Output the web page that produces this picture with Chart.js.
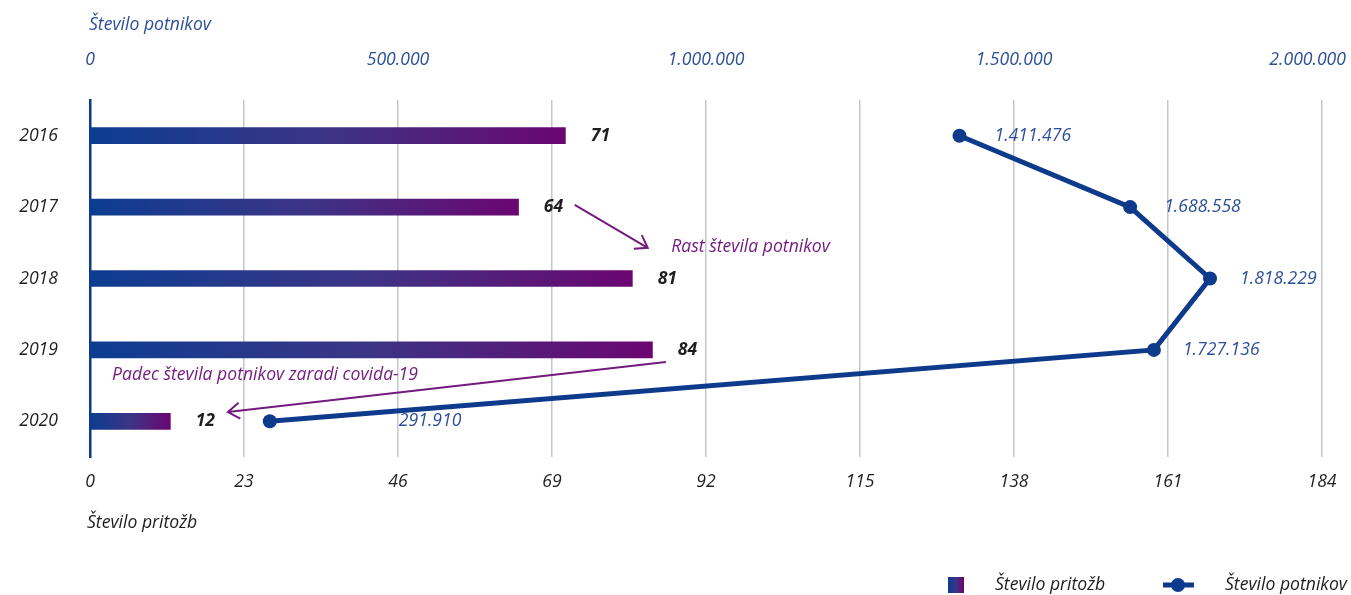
<!DOCTYPE html>
<html>
<head>
<meta charset="utf-8">
<script src="https://cdn.jsdelivr.net/npm/chart.js@4"></script>
<style>
  html, body { margin: 0; padding: 0; background: #fff; }
  #wrap { width: 1351px; height: 595px; position: relative; }
</style>
</head>
<body>
<div id="wrap"><canvas id="myChart"></canvas></div>
<script>
const years = ['2016', '2017', '2018', '2019', '2020'];
const complaints = [71, 64, 81, 84, 12];
const passengers = [1411476, 1688558, 1818229, 1727136, 291910];
const complaintTicks = [0, 23, 46, 69, 92, 115, 138, 161, 184];
const passengerTicks = [0, 500000, 1000000, 1500000, 2000000];

const BLUE = '#0e3a8c';
const PURPLE = '#6b0671';
const LABEL_BLUE = '#2c4f98';
const NOTE = '#731a7f';
const FONT = '"Open Sans", Lato, sans-serif';
const SIZE = 17.6;

function dots(n) {
  return String(n).replace(/\B(?=(\d{3})+(?!\d))/g, '.');
}

function barGradient(ctx, x0, x1) {
  const g = ctx.createLinearGradient(x0, 0, x1, 0);
  g.addColorStop(0, '#0c3d91');
  g.addColorStop(0.5, '#3c3486');
  g.addColorStop(1, PURPLE);
  return g;
}

function arrow(ctx, x0, y0, x1, y1) {
  const a = Math.atan2(y1 - y0, x1 - x0);
  const h = 14;
  ctx.beginPath();
  ctx.moveTo(x0, y0);
  ctx.lineTo(x1, y1);
  ctx.moveTo(x1 - h * Math.cos(a - 0.6), y1 - h * Math.sin(a - 0.6));
  ctx.lineTo(x1, y1);
  ctx.lineTo(x1 - h * Math.cos(a + 0.6), y1 - h * Math.sin(a + 0.6));
  ctx.stroke();
}

// labels, arrows, titles and legend
const extras = {
  id: 'extras',
  afterDatasetsDraw(chart) {
    const ctx = chart.ctx;
    const x = chart.scales.x, x2 = chart.scales.x2, y = chart.scales.y;
    ctx.save();
    ctx.textBaseline = 'middle';

    // complaint values after each bar
    ctx.font = 'italic bold ' + SIZE + 'px ' + FONT;
    ctx.fillStyle = '#1e1e1e';
    ctx.textAlign = 'center';
    complaints.forEach((v, i) => {
      ctx.fillText(v, x.getPixelForValue(v) + 35, y.getPixelForValue(i));
    });

    // passenger values next to points
    const dx = [35, 34, 30, 29, 129];
    ctx.font = 'italic ' + SIZE + 'px ' + FONT;
    ctx.fillStyle = LABEL_BLUE;
    ctx.textAlign = 'left';
    passengers.forEach((v, i) => {
      ctx.fillText(dots(v), x2.getPixelForValue(v) + dx[i], y.getPixelForValue(i));
    });

    // notes
    ctx.strokeStyle = NOTE;
    ctx.lineWidth = 2;
    arrow(ctx, x.getPixelForValue(72.4), y.getPixelForValue(0.97),
               x.getPixelForValue(83.3), y.getPixelForValue(1.57));
    arrow(ctx, x.getPixelForValue(86), y.getPixelForValue(3.17),
               x.getPixelForValue(20.6), y.getPixelForValue(3.87));
    ctx.fillStyle = NOTE;
    ctx.font = 'italic ' + SIZE + 'px ' + FONT;
    ctx.fillText('Rast števila potnikov', x.getPixelForValue(86.8), y.getPixelForValue(1.56));
    ctx.fillText('Padec števila potnikov zaradi covida-19', x.getPixelForValue(3.3), y.getPixelForValue(3.35));
    ctx.restore();
  },
  afterDraw(chart) {
    const ctx = chart.ctx;
    const x2 = chart.scales.x2;
    const W = chart.width;
    ctx.save();
    ctx.textBaseline = 'middle';

    // top axis labels
    ctx.font = 'italic ' + SIZE + 'px ' + FONT;
    ctx.fillStyle = LABEL_BLUE;
    ctx.textAlign = 'center';
    passengerTicks.forEach(v => {
      const t = dots(v);
      const w = ctx.measureText(t).width;
      const px = Math.min(x2.getPixelForValue(v), W - 5 - w / 2);
      ctx.fillText(t, px, 60);
    });

    // axis titles
    ctx.textAlign = 'left';
    ctx.fillText('Število potnikov', 89, 25);
    ctx.fillStyle = '#1e1e1e';
    ctx.fillText('Število pritožb', 87, 523);

    // legend
    ctx.fillStyle = barGradient(ctx, 948, 964);
    ctx.fillRect(948, 577, 16, 16);
    ctx.fillStyle = '#1e1e1e';
    ctx.fillText('Število pritožb', 995, 585);
    ctx.strokeStyle = BLUE;
    ctx.lineWidth = 5;
    ctx.beginPath();
    ctx.moveTo(1163, 585);
    ctx.lineTo(1194, 585);
    ctx.stroke();
    ctx.fillStyle = BLUE;
    ctx.beginPath();
    ctx.arc(1178, 585, 7, 0, Math.PI * 2);
    ctx.fill();
    ctx.fillStyle = '#1e1e1e';
    ctx.fillText('Število potnikov', 1225, 585);
    ctx.restore();
  }
};

const data = {
  labels: years,
  datasets: [{
    type: 'line',
    label: 'Število potnikov',
    data: passengers,
    xAxisID: 'x2',
    yAxisID: 'y',
    borderColor: BLUE,
    backgroundColor: BLUE,
    borderWidth: 5,
    pointRadius: 7,
    pointBorderWidth: 0,
    pointBackgroundColor: BLUE,
    tension: 0,
    order: 0
  }, {
    type: 'bar',
    label: 'Število pritožb',
    data: complaints,
    xAxisID: 'x',
    yAxisID: 'y',
    barThickness: 16,
    backgroundColor(c) {
      const chart = c.chart;
      if (!chart.chartArea) return PURPLE;
      const xs = chart.scales.x;
      return barGradient(chart.ctx, xs.getPixelForValue(0), xs.getPixelForValue(c.raw));
    },
    order: 1
  }]
};

const config = {
  type: 'bar',
  data: data,
  plugins: [extras],
  options: {
    indexAxis: 'y',
    responsive: false,
    animation: false,
    layout: { padding: { top: 100, right: 29, left: 0, bottom: 0 } },
    plugins: {
      legend: { display: false },
      tooltip: { enabled: false }
    },
    scales: {
      y: {
        type: 'category',
        offset: true,
        grid: { display: false },
        border: { display: true, color: BLUE, width: 2.5 },
        ticks: {
          color: '#1e1e1e',
          padding: 24,
          font: { family: FONT, style: 'italic', size: SIZE }
        },
        afterFit(s) { s.width = 90; }
      },
      x: {
        position: 'bottom',
        min: 0,
        max: 184,
        afterBuildTicks(s) { s.ticks = complaintTicks.map(v => ({ value: v })); },
        grid: { color: '#c3c6cb', lineWidth: 1.5, drawTicks: false },
        border: { display: false },
        ticks: {
          color: '#1e1e1e',
          padding: 14,
          maxRotation: 0,
          font: { family: FONT, style: 'italic', size: SIZE }
        },
        afterFit(s) { s.height = 138; s.paddingLeft = 0; s.paddingRight = 0; }
      },
      x2: {
        display: false,
        position: 'top',
        min: 0,
        max: 2000000
      }
    }
  }
};

const canvas = document.getElementById('myChart');
canvas.width = 1351;
canvas.height = 595;
const myChart = new Chart(canvas.getContext('2d'), config);
</script>
</body>
</html>
